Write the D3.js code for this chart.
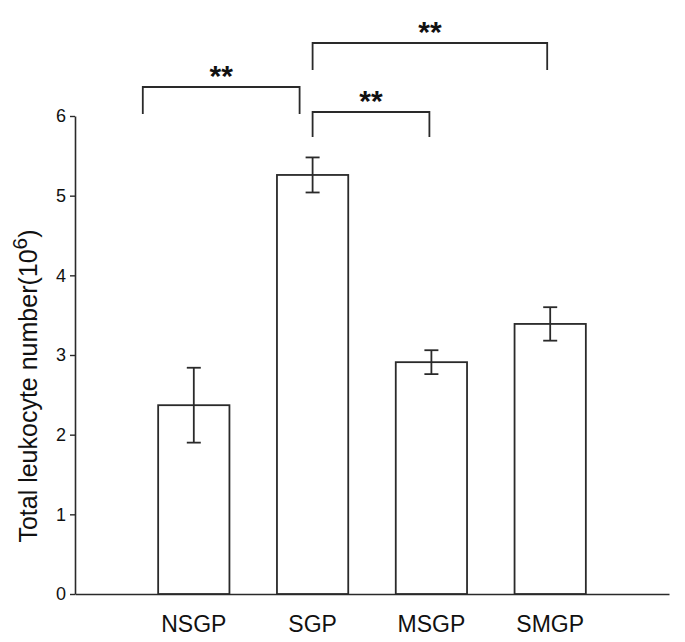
<!DOCTYPE html>
<html>
<head>
<meta charset="utf-8">
<script src="https://cdn.jsdelivr.net/npm/d3@7"></script>
<style>
	body { margin: 0; background: #fff; }
	svg { display: block; font-family: "Liberation Sans", Arial, sans-serif; }
</style>
</head>
<body>
<div id="chart"></div>
<script>
// data
var groups = ["NSGP", "SGP", "MSGP", "SMGP"];
var means = [2.37, 5.26, 2.91, 3.39];
var errors = [0.47, 0.22, 0.15, 0.21];
var yTicks = [0, 1, 2, 3, 4, 5, 6];
// significance brackets: from group, to group, label
var brackets = [
	{ from: "NSGP", to: "SGP", label: "**" },
	{ from: "SGP", to: "MSGP", label: "**" },
	{ from: "SGP", to: "SMGP", label: "**" }
];

var width = 685, height = 642;
var stroke = "#2a2a2a";

var svg = d3.select("#chart").append("svg")
	.attr("width", width)
	.attr("height", height);

var x = d3.scaleBand().domain(groups).range([75, 669]).paddingInner(0.4).paddingOuter(0.7);
var y = d3.scaleLinear().domain([0, 6]).range([594, 116]);

function center(g){ return x(g) + x.bandwidth() / 2; }

// y axis
var yAxis = svg.append("g")
	.attr("transform", "translate(75,0)")
	.call(d3.axisLeft(y).tickValues(yTicks).tickFormat(d3.format("d")).tickSize(5).tickPadding(4).tickSizeOuter(0));
yAxis.select(".domain").attr("stroke", stroke).attr("stroke-width", 1.6);
yAxis.selectAll(".tick line").attr("stroke", stroke).attr("stroke-width", 1.4);
yAxis.selectAll(".tick text")
	.attr("fill", "#111")
	.style("font-size", "18px");

// x axis: plain baseline, no ticks
var xAxis = svg.append("g")
	.attr("transform", "translate(0,594)")
	.call(d3.axisBottom(x).tickSize(0).tickPadding(22).tickSizeOuter(0));
xAxis.select(".domain").attr("stroke", stroke).attr("stroke-width", 1.6);
xAxis.selectAll(".tick text")
	.attr("fill", "#111")
	.style("font-size", "23px");

// bars
svg.append("g").selectAll("rect")
	.data(groups)
	.enter().append("rect")
	.attr("x", function(d){ return x(d); })
	.attr("y", function(d, i){ return y(means[i]); })
	.attr("width", x.bandwidth())
	.attr("height", function(d, i){ return y(0) - y(means[i]); })
	.attr("fill", "#fff")
	.attr("stroke", stroke)
	.attr("stroke-width", 1.8);

// error bars
var err = svg.append("g").attr("stroke", stroke).attr("stroke-width", 1.8);
groups.forEach(function(g, i){
	var cx = center(g);
	var hi = y(means[i] + errors[i]), lo = y(means[i] - errors[i]);
	err.append("line").attr("x1", cx).attr("x2", cx).attr("y1", hi).attr("y2", lo);
	err.append("line").attr("x1", cx - 7).attr("x2", cx + 7).attr("y1", hi).attr("y2", hi);
	err.append("line").attr("x1", cx - 7).attr("x2", cx + 7).attr("y1", lo).attr("y2", lo);
});

// brackets (end offsets and heights match the figure's hand placement)
var bracketPos = [
	{ dx0: -51, dx1: -13, top: 87, leg: 27 },
	{ dx0: 0, dx1: -2, top: 112, leg: 25 },
	{ dx0: 0, dx1: -3, top: 43, leg: 27 }
];
var br = svg.append("g");
brackets.forEach(function(b, i){
	var p = bracketPos[i];
	var x0 = center(b.from) + p.dx0, x1 = center(b.to) + p.dx1;
	br.append("path")
		.attr("d", d3.line()([[x0, p.top + p.leg], [x0, p.top], [x1, p.top], [x1, p.top + p.leg]]))
		.attr("fill", "none")
		.attr("stroke", stroke)
		.attr("stroke-width", 1.8);
	br.append("text")
		.attr("x", (x0 + x1) / 2)
		.attr("y", p.top - 1)
		.attr("text-anchor", "middle")
		.style("font-size", "30px")
		.style("font-weight", "bold")
		.attr("fill", "#111")
		.text(b.label);
});

// y title
var title = svg.append("text")
	.attr("transform", "translate(37,386) rotate(-90)")
	.attr("text-anchor", "middle")
	.style("font-size", "25px")
	.attr("fill", "#111");
title.append("tspan").text("Total leukocyte number(10");
title.append("tspan").attr("dy", -10).style("font-size", "21px").text("6");
title.append("tspan").attr("dy", 10).text(")");
</script>
</body>
</html>
